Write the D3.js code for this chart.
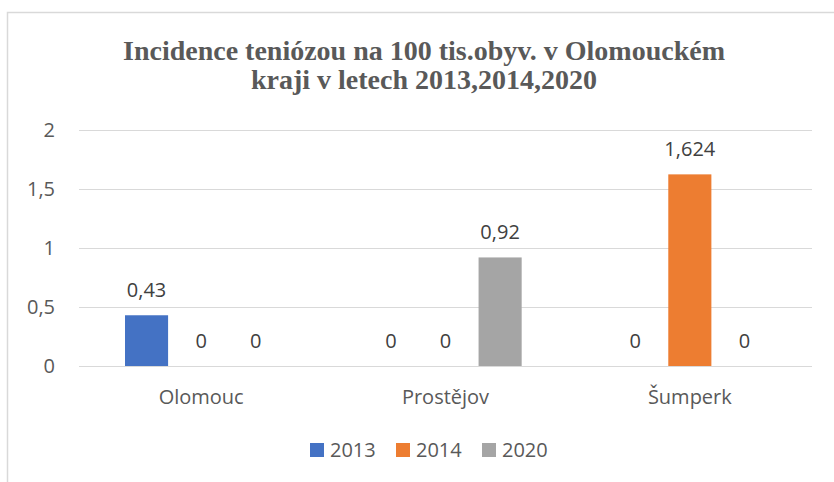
<!DOCTYPE html>
<html>
<head>
<meta charset="utf-8">
<script src="https://cdn.jsdelivr.net/npm/d3@7"></script>
<style>
  html, body { margin: 0; padding: 0; background: #fff; }
  svg { display: block; }
</style>
</head>
<body>
<svg id="chart" width="834" height="482"></svg>
<script>
// Districts of the Olomouc region and incidence per 100k inhabitants by year
const categories = ["Olomouc", "Prostějov", "Šumperk"];
const years = ["2013", "2014", "2020"];
const values2013 = [0.43, 0, 0];
const values2014 = [0, 0, 1.624];
const values2020 = [0, 0.92, 0];
const yTicks = [0, 0.5, 1, 1.5, 2];
const colors = ["#4472C4", "#ED7D31", "#A5A5A5"];
const titleLines = ["Incidence teniózou na 100 tis.obyv. v Olomouckém", "kraji v letech 2013,2014,2020"];

const seriesValues = [values2013, values2014, values2020];
const fmt = v => String(v).replace(".", ",");

const svg = d3.select("#chart");
const textColor = "#595959";
const sans = "'Open Sans', 'Noto Sans', sans-serif";
const fontSize = 20;

// Chart frame (left and top edges visible)
svg.append("rect")
  .attr("x", 7.5).attr("y", 12.5)
  .attr("width", 840).attr("height", 480)
  .attr("fill", "#fff")
  .attr("stroke", "#d9d9d9").attr("stroke-width", 1.5);

// Title, two separate lines
const titleCx = 424;
svg.append("g").selectAll("text").data(titleLines).join("text")
  .attr("x", titleCx)
  .attr("y", (d, i) => 60 + i * 28.5)
  .attr("text-anchor", "middle")
  .attr("font-family", "'Liberation Serif', 'Times New Roman', serif")
  .attr("font-weight", "bold")
  .attr("font-size", 28)
  .attr("fill", textColor)
  .text(d => d);

const plot = { left: 79, right: 812, top: 130, bottom: 366 };

const x0 = d3.scaleBand()
  .domain(categories)
  .range([plot.left, plot.right])
  .paddingInner(0).paddingOuter(0);

const groupPad = 46;
const x1 = d3.scaleBand()
  .domain(years)
  .range([groupPad, x0.bandwidth() - groupPad])
  .paddingInner(0.211).paddingOuter(0);

const y = d3.scaleLinear().domain([0, 2]).range([plot.bottom, plot.top]);

// Gridlines
svg.append("g")
  .selectAll("line").data(yTicks).join("line")
  .attr("x1", plot.left).attr("x2", plot.right)
  .attr("y1", d => Math.round(y(d)) + 0.5).attr("y2", d => Math.round(y(d)) + 0.5)
  .attr("stroke", "#d9d9d9").attr("stroke-width", 1.2);

// Y axis labels
const yAxis = d3.axisLeft(y).tickValues(yTicks).tickSize(0).tickPadding(0).tickFormat(fmt);
const gy = svg.append("g").attr("transform", `translate(${plot.left - 24},0)`).call(yAxis);
gy.select(".domain").remove();
gy.selectAll("text")
  .attr("font-family", sans).attr("font-size", fontSize).attr("fill", textColor);

// X axis labels
const xAxis = d3.axisBottom(x0).tickSize(0).tickPadding(0);
const gx = svg.append("g").attr("transform", `translate(0,${plot.bottom + 24})`).call(xAxis);
gx.select(".domain").remove();
gx.selectAll("text")
  .attr("font-family", sans).attr("font-size", fontSize).attr("fill", textColor);

// Bars and value labels
const groups = svg.append("g").selectAll("g").data(categories).join("g")
  .attr("transform", c => `translate(${x0(c)},0)`);

groups.each(function(c, ci) {
  const g = d3.select(this);
  const rows = years.map((yr, si) => ({ yr, si, v: seriesValues[si][ci] }));
  g.selectAll("rect").data(rows.filter(r => r.v > 0)).join("rect")
    .attr("x", r => x1(r.yr))
    .attr("y", r => y(r.v))
    .attr("width", x1.bandwidth())
    .attr("height", r => y(0) - y(r.v))
    .attr("fill", r => colors[r.si]);
  g.selectAll("text").data(rows).join("text")
    .attr("x", r => x1(r.yr) + x1.bandwidth() / 2)
    .attr("y", r => y(r.v) - 18)
    .attr("text-anchor", "middle")
    .attr("font-family", sans).attr("font-size", fontSize)
    .attr("fill", "#404040")
    .text(r => fmt(r.v));
});

// Legend
const legendX = [310, 396, 482];
const legend = svg.append("g").selectAll("g").data(years).join("g")
  .attr("transform", (d, i) => `translate(${legendX[i]},443)`);
legend.append("rect").attr("width", 14).attr("height", 14).attr("fill", (d, i) => colors[i]);
legend.append("text")
  .attr("x", 20).attr("y", 14)
  .attr("font-family", sans).attr("font-size", fontSize).attr("fill", textColor)
  .text(d => d);
</script>
</body>
</html>
